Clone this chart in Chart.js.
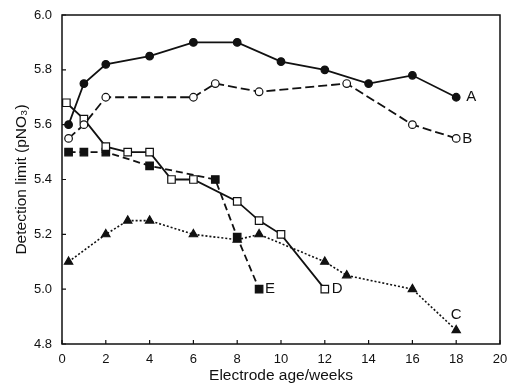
<!DOCTYPE html>
<html>
<head>
    <title>Detection limit vs electrode age</title>
    <script src="https://cdn.jsdelivr.net/npm/chart.js"></script>
    <style>
        body { margin: 0; background: #fff; }
        #wrap { width: 507px; height: 385px; }
    </style>
</head>
<body>

<div id="wrap"><canvas id="limitChart"></canvas></div>

<script>
    // electrode age (weeks) and detection limit (pNO3) for each electrode
    const weeksA = [0.3, 1, 2, 4, 6, 8, 10, 12, 14, 16, 18];
    const limitA = [5.6, 5.75, 5.82, 5.85, 5.9, 5.9, 5.83, 5.8, 5.75, 5.78, 5.7];

    const weeksB = [0.3, 1, 2, 6, 7, 9, 13, 16, 18];
    const limitB = [5.55, 5.6, 5.7, 5.7, 5.75, 5.72, 5.75, 5.6, 5.55];

    const weeksC = [0.3, 2, 3, 4, 6, 8, 9, 12, 13, 16, 18];
    const limitC = [5.1, 5.2, 5.25, 5.25, 5.2, 5.18, 5.2, 5.1, 5.05, 5.0, 4.85];

    const weeksD = [0.2, 1, 2, 3, 4, 5, 6, 8, 9, 10, 12];
    const limitD = [5.68, 5.62, 5.52, 5.5, 5.5, 5.4, 5.4, 5.32, 5.25, 5.2, 5.0];

    const weeksE = [0.3, 1, 2, 4, 7, 8, 9];
    const limitE = [5.5, 5.5, 5.5, 5.45, 5.4, 5.19, 5.0];

    const seriesNames = ['A', 'B', 'C', 'D', 'E'];
    const xTicks = [0, 2, 4, 6, 8, 10, 12, 14, 16, 18, 20];
    const yTicks = [4.8, 5.0, 5.2, 5.4, 5.6, 5.8, 6.0];

    const ink = '#111';
    const fontFamily = '"Liberation Sans", Arial, sans-serif';

    function toPoints(xs, ys) {
        return xs.map((x, i) => ({ x: x, y: ys[i] }));
    }

    function series(name, xs, ys, style) {
        return Object.assign({
            label: name,
            data: toPoints(xs, ys),
            borderColor: ink,
            borderWidth: 1.8,
            pointBorderColor: ink,
            pointBorderWidth: 1.2,
            tension: 0,
            fill: false
        }, style);
    }

    // frame, inward tick marks and the curve letters
    const framePlugin = {
        id: 'frame',
        afterDatasetsDraw(chart) {
            const ctx = chart.ctx;
            const area = chart.chartArea;
            const xs = chart.scales.x;
            const ys = chart.scales.y;
            ctx.save();
            ctx.strokeStyle = ink;
            ctx.lineWidth = 1.5;
            ctx.strokeRect(area.left, area.top, area.right - area.left, area.bottom - area.top);
            ctx.lineWidth = 1.2;
            ctx.beginPath();
            xTicks.forEach(v => {
                const px = xs.getPixelForValue(v);
                ctx.moveTo(px, area.bottom);
                ctx.lineTo(px, area.bottom - 4);
            });
            yTicks.forEach(v => {
                const py = ys.getPixelForValue(v);
                ctx.moveTo(area.left, py);
                ctx.lineTo(area.left + 4, py);
            });
            ctx.stroke();

            // letter next to the last point of each curve
            const offsets = { A: [10, 0, 'left'], B: [6, 0, 'left'], C: [0, -15, 'center'], D: [7, 0, 'left'], E: [6, 0, 'left'] };
            ctx.fillStyle = ink;
            ctx.font = '15px ' + fontFamily;
            ctx.textBaseline = 'middle';
            chart.data.datasets.forEach((ds, i) => {
                const meta = chart.getDatasetMeta(i);
                const last = meta.data[meta.data.length - 1];
                const off = offsets[ds.label];
                ctx.textAlign = off[2];
                ctx.fillText(ds.label, last.x + off[0], last.y + off[1]);
            });
            ctx.restore();
        }
    };

    const ctx = document.getElementById('limitChart').getContext('2d');
    const limitChart = new Chart(ctx, {
        type: 'line',
        data: {
            datasets: [
                series(seriesNames[0], weeksA, limitA, {
                    pointStyle: 'circle', pointRadius: 3.8, pointBackgroundColor: ink
                }),
                series(seriesNames[1], weeksB, limitB, {
                    borderDash: [9, 4], pointStyle: 'circle', pointRadius: 3.8, pointBackgroundColor: '#fff'
                }),
                series(seriesNames[2], weeksC, limitC, {
                    borderDash: [2, 2], borderWidth: 1.6, pointStyle: 'triangle', pointRadius: 4.8, pointBackgroundColor: ink
                }),
                series(seriesNames[3], weeksD, limitD, {
                    pointStyle: 'rect', pointRadius: 5.3, pointBackgroundColor: '#fff'
                }),
                series(seriesNames[4], weeksE, limitE, {
                    borderDash: [7, 4], pointStyle: 'rect', pointRadius: 5.3, pointBackgroundColor: ink
                })
            ]
        },
        options: {
            responsive: true,
            maintainAspectRatio: false,
            animation: false,
            layout: { padding: { top: 15, right: 7, bottom: 0, left: 0 } },
            plugins: {
                legend: { display: false },
                tooltip: { enabled: false }
            },
            scales: {
                x: {
                    type: 'linear',
                    min: 0,
                    max: 20,
                    afterBuildTicks: axis => { axis.ticks = xTicks.map(v => ({ value: v })); },
                    afterFit: axis => {
                        axis.height = 41;
                        axis.paddingLeft = 0;
                        axis.paddingRight = 0;
                    },
                    grid: { display: false, drawTicks: false },
                    border: { display: false },
                    ticks: {
                        color: ink,
                        padding: 8,
                        maxRotation: 0,
                        font: { family: fontFamily, size: 13 }
                    },
                    title: {
                        display: true,
                        text: 'Electrode age/weeks',
                        color: ink,
                        padding: 0,
                        font: { family: fontFamily, size: 15.5 }
                    }
                },
                y: {
                    type: 'linear',
                    min: 4.8,
                    max: 6.0,
                    afterBuildTicks: axis => { axis.ticks = yTicks.map(v => ({ value: v })); },
                    afterFit: axis => {
                        axis.width = 62;
                        axis.paddingTop = 0;
                        axis.paddingBottom = 0;
                    },
                    grid: { display: false, drawTicks: false },
                    border: { display: false },
                    ticks: {
                        color: ink,
                        padding: 10,
                        font: { family: fontFamily, size: 13 },
                        callback: v => v.toFixed(1)
                    },
                    title: {
                        display: true,
                        text: 'Detection limit (pNO₃)',
                        color: ink,
                        padding: { top: 12 },
                        font: { family: fontFamily, size: 15.5 }
                    }
                }
            }
        },
        plugins: [framePlugin]
    });
</script>

</body>
</html>
